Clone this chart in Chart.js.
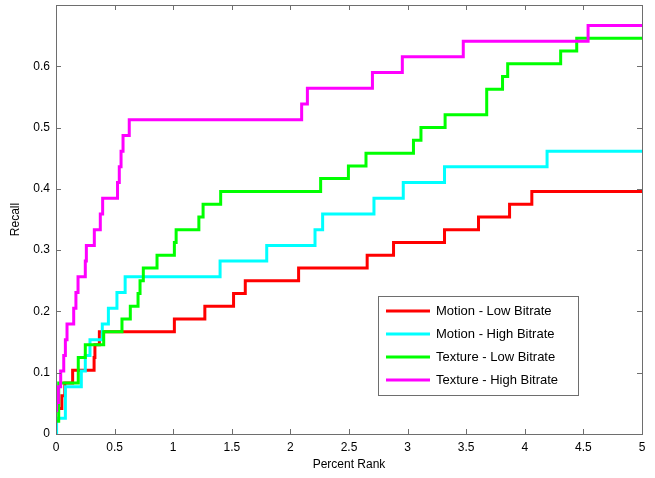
<!DOCTYPE html>
<html>
<head>
<meta charset="utf-8">
<script src="https://cdn.jsdelivr.net/npm/chart.js@4.4.0/dist/chart.umd.min.js"></script>
<style>
  html, body { margin: 0; padding: 0; background: #fff; }
  #wrap { width: 655px; height: 478px; }
</style>
</head>
<body>
<div id="wrap"><canvas id="myChart" width="655" height="478"></canvas></div>
<script>
var seriesNames = [ "Motion - Low Bitrate", "Motion - High Bitrate", "Texture - Low Bitrate", "Texture - High Bitrate" ];
var seriesColors = [ "#ff0000", "#00ffff", "#00ff00", "#ff00ff" ];

// step curves: recall jumps to y at percent rank x
var motionLowX = [0, 0.05, 0.075, 0.142, 0.325, 0.332, 0.37, 1.01, 1.27, 1.515, 1.615, 2.07, 2.655, 2.88, 3.315, 3.605, 3.87, 4.06, 5];
var motionLowY = [0.0417, 0.0625, 0.0833, 0.1042, 0.125, 0.1458, 0.1667, 0.1875, 0.2083, 0.2292, 0.25, 0.2708, 0.2917, 0.3125, 0.3333, 0.3542, 0.375, 0.3958, 0.3958];

var motionHighX = [0, 0.005, 0.08, 0.216, 0.25, 0.29, 0.395, 0.447, 0.52, 0.59, 1.40, 1.798, 2.21, 2.275, 2.713, 2.963, 3.315, 4.19, 5];
var motionHighY = [0, 0.0256, 0.0769, 0.1026, 0.1282, 0.1538, 0.1795, 0.2051, 0.2308, 0.2564, 0.2821, 0.3077, 0.3333, 0.359, 0.3846, 0.4103, 0.4359, 0.4615, 0.4615];

var textureLowX = [0, 0.023, 0.19, 0.25, 0.407, 0.563, 0.634, 0.70, 0.717, 0.745, 0.862, 1.01, 1.025, 1.219, 1.255, 1.405, 2.258, 2.495, 2.645, 3.05, 3.114, 3.32, 3.675, 3.81, 3.854, 4.306, 4.443, 5];
var textureLowY = [0.0208, 0.0833, 0.125, 0.1458, 0.1667, 0.1875, 0.2083, 0.2292, 0.25, 0.2708, 0.2917, 0.3125, 0.3333, 0.3542, 0.375, 0.3958, 0.4167, 0.4375, 0.4583, 0.4792, 0.5, 0.5208, 0.5625, 0.5833, 0.6042, 0.625, 0.6458, 0.6458];

var textureHighX = [0, 0.005, 0.02, 0.04, 0.066, 0.08, 0.094, 0.151, 0.17, 0.188, 0.25, 0.259, 0.327, 0.378, 0.398, 0.525, 0.54, 0.555, 0.572, 0.625, 2.096, 2.145, 2.70, 2.955, 3.475, 4.54, 5];
var textureHighY = [0.0385, 0.0513, 0.0769, 0.1026, 0.1282, 0.1538, 0.1795, 0.2051, 0.2308, 0.2564, 0.2821, 0.3077, 0.3333, 0.359, 0.3846, 0.4103, 0.4359, 0.4615, 0.4872, 0.5128, 0.5385, 0.5641, 0.5897, 0.6154, 0.641, 0.6667, 0.6667];

var xTicks = [0, 0.5, 1, 1.5, 2, 2.5, 3, 3.5, 4, 4.5, 5];
var yTicks = [0, 0.1, 0.2, 0.3, 0.4, 0.5, 0.6];

var fontFamily = "'Liberation Sans', Arial, Helvetica, sans-serif";

function toPoints(xs, ys){
  var pts = [];
  for (var i = 0; i < xs.length; i++) pts.push({x: xs[i], y: ys[i]});
  return pts;
}

var allX = [motionLowX, motionHighX, textureLowX, textureHighX];
var allY = [motionLowY, motionHighY, textureLowY, textureHighY];

var datasets = [];
for (var i = 0; i < seriesNames.length; i++) {
  datasets.push({
    label: seriesNames[i],
    data: toPoints(allX[i], allY[i]),
    borderColor: seriesColors[i],
    backgroundColor: seriesColors[i],
    borderWidth: 3,
    pointRadius: 0,
    stepped: 'before',
    fill: false,
    order: seriesNames.length - i  // later series drawn on top, like matlab
  });
}

// matlab style box with inward ticks
var boxPlugin = {
  id: 'box',
  afterDatasetsDraw: function(chart){
    var ctx = chart.ctx, a = chart.chartArea;
    var xs = chart.scales.x, ys = chart.scales.y;
    var tl = 5;
    ctx.save();
    ctx.strokeStyle = '#6e6e6e';
    ctx.lineWidth = 1;
    ctx.beginPath();
    xTicks.forEach(function(v){
      var px = Math.round(xs.getPixelForValue(v)) + 0.5;
      ctx.moveTo(px, a.bottom); ctx.lineTo(px, a.bottom - tl);
      ctx.moveTo(px, a.top); ctx.lineTo(px, a.top + tl);
    });
    yTicks.forEach(function(v){
      var py = Math.round(ys.getPixelForValue(v)) + 0.5;
      ctx.moveTo(a.left, py); ctx.lineTo(a.left + tl, py);
      ctx.moveTo(a.right, py); ctx.lineTo(a.right - tl, py);
    });
    ctx.stroke();
    ctx.strokeRect(Math.round(a.left) + 0.5, Math.round(a.top) + 0.5, Math.round(a.right - a.left), Math.round(a.bottom - a.top));
    ctx.restore();
  }
};

// legend box inside the plot, lower right
var legendPlugin = {
  id: 'boxLegend',
  afterDraw: function(chart){
    var ctx = chart.ctx;
    var bx = 378, by = 296, bw = 200, bh = 99;
    ctx.save();
    ctx.fillStyle = '#ffffff';
    ctx.fillRect(bx, by, bw, bh);
    ctx.strokeStyle = '#6e6e6e';
    ctx.lineWidth = 1;
    ctx.strokeRect(bx + 0.5, by + 0.5, bw, bh);
    ctx.font = "13px " + fontFamily;
    ctx.textBaseline = 'middle';
    ctx.fillStyle = '#000';
    chart.data.datasets.forEach(function(ds, i){
      var y = by + 15 + i * 23;
      ctx.strokeStyle = ds.borderColor;
      ctx.lineWidth = 3;
      ctx.beginPath();
      ctx.moveTo(386, y); ctx.lineTo(430, y);
      ctx.stroke();
      ctx.fillText(ds.label, 436, y);
    });
    ctx.restore();
  }
};

var ctx = document.getElementById('myChart').getContext('2d');
var chart = new Chart(ctx, {
  type: 'line',
  data: { datasets: datasets },
  options: {
    responsive: false,
    animation: false,
    layout: { padding: { top: 5, right: 13, left: 0, bottom: 0 } },
    plugins: { legend: { display: false }, tooltip: { enabled: false } },
    scales: {
      x: {
        type: 'linear', min: 0, max: 5,
        afterBuildTicks: function(s){ s.ticks = xTicks.map(function(v){ return {value: v}; }); },
        afterFit: function(s){ s.height = 44; s.paddingLeft = 0; s.paddingRight = 0; },
        grid: { display: false, drawTicks: false },
        border: { display: false },
        ticks: { color: '#000', padding: 6, maxRotation: 0, font: { size: 12, family: fontFamily },
          callback: function(v){ return String(v); } },
        title: { display: true, text: 'Percent Rank', color: '#000', padding: { top: 0, bottom: 6 },
          font: { size: 12, family: fontFamily } }
      },
      y: {
        min: 0, max: 0.7,
        afterBuildTicks: function(s){ s.ticks = yTicks.map(function(v){ return {value: v}; }); },
        afterFit: function(s){ s.width = 56; s.paddingTop = 0; s.paddingBottom = 0; },
        grid: { display: false, drawTicks: false },
        border: { display: false },
        ticks: { color: '#000', padding: 6, font: { size: 12, family: fontFamily },
          callback: function(v){ return String(Math.round(v * 10) / 10); } },
        title: { display: true, text: 'Recall', color: '#000', padding: { top: 8, bottom: 0 },
          font: { size: 12, family: fontFamily } }
      }
    }
  },
  plugins: [boxPlugin, legendPlugin]
});
</script>
</body>
</html>
